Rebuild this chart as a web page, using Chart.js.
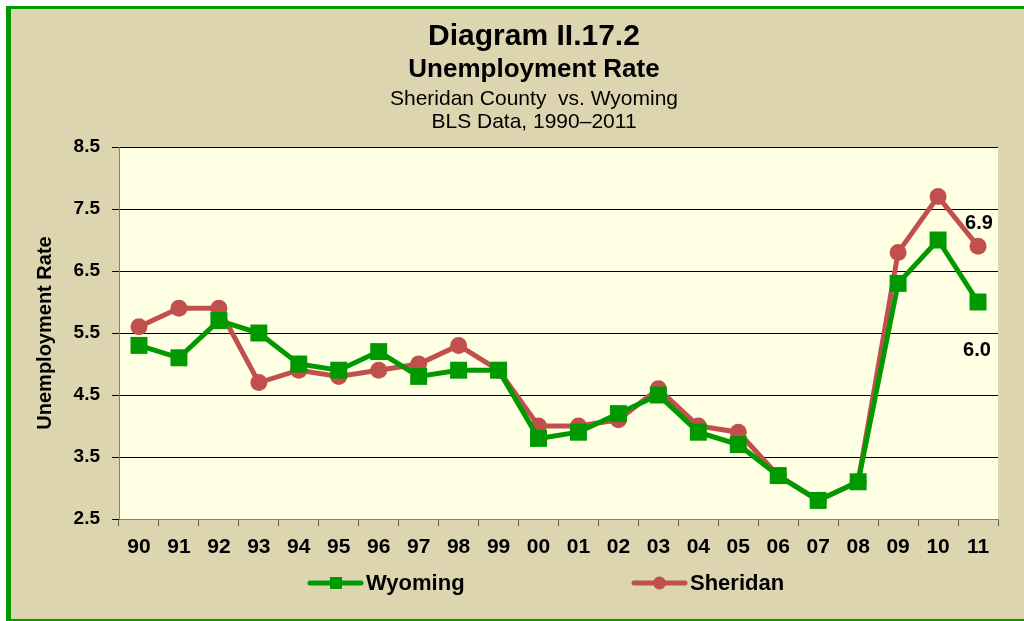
<!DOCTYPE html>
<html>
<head>
<meta charset="utf-8">
<script src="https://cdn.jsdelivr.net/npm/chart.js@4"></script>
<style>
html,body{margin:0;padding:0;background:#fff;}
#wrap{width:1024px;height:621px;position:relative;}
</style>
</head>
<body>
<div id="wrap"><canvas id="c" width="1024" height="621"></canvas></div>
<script>
const categories = ["90","91","92","93","94","95","96","97","98","99","00","01","02","03","04","05","06","07","08","09","10","11"];
const wyoming  = [5.3,5.1,5.7,5.5,5.0,4.9,5.2,4.8,4.9,4.9,3.8,3.9,4.2,4.5,3.9,3.7,3.2,2.8,3.1,6.3,7.0,6.0];
const sheridan = [5.6,5.9,5.9,4.7,4.9,4.8,4.9,5.0,5.3,4.9,4.0,4.0,4.1,4.6,4.0,3.9,3.2,2.8,3.1,6.8,7.7,6.9];
const yTicks = [2.5,3.5,4.5,5.5,6.5,7.5,8.5];
const titleLines = ["Diagram II.17.2","Unemployment Rate","Sheridan County  vs. Wyoming","BLS Data, 1990\u20132011"];
const seriesNames = ["Wyoming","Sheridan"];

const FONT = "'Liberation Sans', Arial, sans-serif";
const GREEN = "#009900";
const RED = "#C0504D";

const bgPlugin = {
  id: 'bg',
  beforeDraw(chart) {
    const ctx = chart.ctx;
    ctx.save();
    ctx.fillStyle = '#ffffff';
    ctx.fillRect(0,0,chart.width,chart.height);
    ctx.fillStyle = '#DDD5AF';
    ctx.fillRect(6,6,chart.width-6,chart.height-6);
    ctx.fillStyle = GREEN;
    ctx.fillRect(6,6,chart.width-6,3);
    ctx.fillRect(6,6,5,chart.height-6);
    ctx.fillRect(6,chart.height-2,chart.width-6,2);
    const a = chart.chartArea;
    ctx.fillStyle = '#FFFFE3';
    ctx.fillRect(a.left,a.top,a.right-a.left,a.bottom-a.top);
    // titles
    ctx.fillStyle = '#000';
    ctx.textAlign = 'center';
    ctx.textBaseline = 'middle';
    const cx = 534;
    ctx.font = "bold 30px " + FONT;
    ctx.fillText(titleLines[0], cx, 37);
    ctx.font = "bold 26px " + FONT;
    ctx.fillText(titleLines[1], cx, 70);
    ctx.font = "21px " + FONT;
    ctx.fillText(titleLines[2], cx, 99);
    ctx.fillText(titleLines[3], cx, 122);
    ctx.restore();
  },
  afterDraw(chart) {
    const ctx = chart.ctx;
    ctx.save();
    // data labels for last points
    const xs = chart.scales.x, ys = chart.scales.y;
    const last = categories.length - 1;
    ctx.font = "bold 20px " + FONT;
    ctx.fillStyle = '#000';
    ctx.textAlign = 'center';
    ctx.textBaseline = 'middle';
    const px = xs.getPixelForValue(last);
    ctx.fillText(sheridan[last].toFixed(1), px + 1, ys.getPixelForValue(sheridan[last]) - 23);
    ctx.fillText(wyoming[last].toFixed(1), px - 1, ys.getPixelForValue(wyoming[last]) + 48);
    // legend
    const items = [
      {x:310, name:seriesNames[0], color:GREEN, style:'rect'},
      {x:634, name:seriesNames[1], color:RED, style:'circle'}
    ];
    const ly = 583;
    items.forEach(it => {
      ctx.strokeStyle = it.color;
      ctx.lineWidth = 5;
      ctx.lineCap = 'round';
      ctx.beginPath();
      ctx.moveTo(it.x, ly); ctx.lineTo(it.x + 51, ly);
      ctx.stroke();
      ctx.fillStyle = it.color;
      if (it.style === 'rect') {
        ctx.fillRect(it.x + 20, ly - 6, 12, 12);
      } else {
        ctx.beginPath(); ctx.arc(it.x + 25.5, ly, 6.5, 0, Math.PI*2); ctx.fill();
      }
      ctx.fillStyle = '#000';
      ctx.textAlign = 'left';
      ctx.textBaseline = 'middle';
      ctx.font = "bold 22px " + FONT;
      ctx.fillText(it.name, it.x + 56, ly + 1);
    });
    ctx.restore();
  }
};

new Chart(document.getElementById('c'), {
  type: 'line',
  data: {
    labels: categories,
    datasets: [
      {
        label: seriesNames[0], data: wyoming,
        borderColor: GREEN, backgroundColor: GREEN,
        borderWidth: 5, pointStyle: 'rect', pointRadius: 12, pointHoverRadius: 12,
        pointBorderWidth: 0, tension: 0
      },
      {
        label: seriesNames[1], data: sheridan,
        borderColor: RED, backgroundColor: RED,
        borderWidth: 5, pointStyle: 'circle', pointRadius: 8.5, pointHoverRadius: 8.5,
        pointBorderWidth: 0, tension: 0
      }
    ]
  },
  options: {
    responsive: false,
    animation: false,
    events: [],
    layout: { padding: { left: 0, right: 26, top: 147, bottom: 62 } },
    plugins: { legend: { display: false }, title: { display: false }, tooltip: { enabled: false } },
    scales: {
      x: {
        offset: true,
        grid: { offset: true, drawOnChartArea: false, drawTicks: true, tickLength: 7, color: '#808080', tickColor: '#606060' },
        border: { display: true, color: '#808080', width: 1 },
        ticks: { color: '#000', font: { family: FONT, size: 21, weight: 'bold' }, padding: 9, maxRotation: 0, autoSkip: false },
        afterFit(s) { s.height = 40; }
      },
      y: {
        min: yTicks[0], max: yTicks[yTicks.length-1],
        afterBuildTicks(s) { s.ticks = yTicks.map(v => ({ value: v })); },
        grid: { color: '#000', lineWidth: 1, drawTicks: true, tickLength: 7, tickColor: '#000' },
        border: { display: true, color: '#808080', width: 1 },
        ticks: { color: '#000', font: { family: FONT, size: 19, weight: 'bold' }, padding: 12, callback: v => Number(v).toFixed(1) },
        title: { display: true, text: 'Unemployment Rate', color: '#000', font: { family: FONT, size: 20, weight: 'bold' }, padding: { top: 33, bottom: 0 } },
        afterFit(s) { s.width = 119; }
      }
    }
  },
  plugins: [bgPlugin]
});
</script>
</body>
</html>
